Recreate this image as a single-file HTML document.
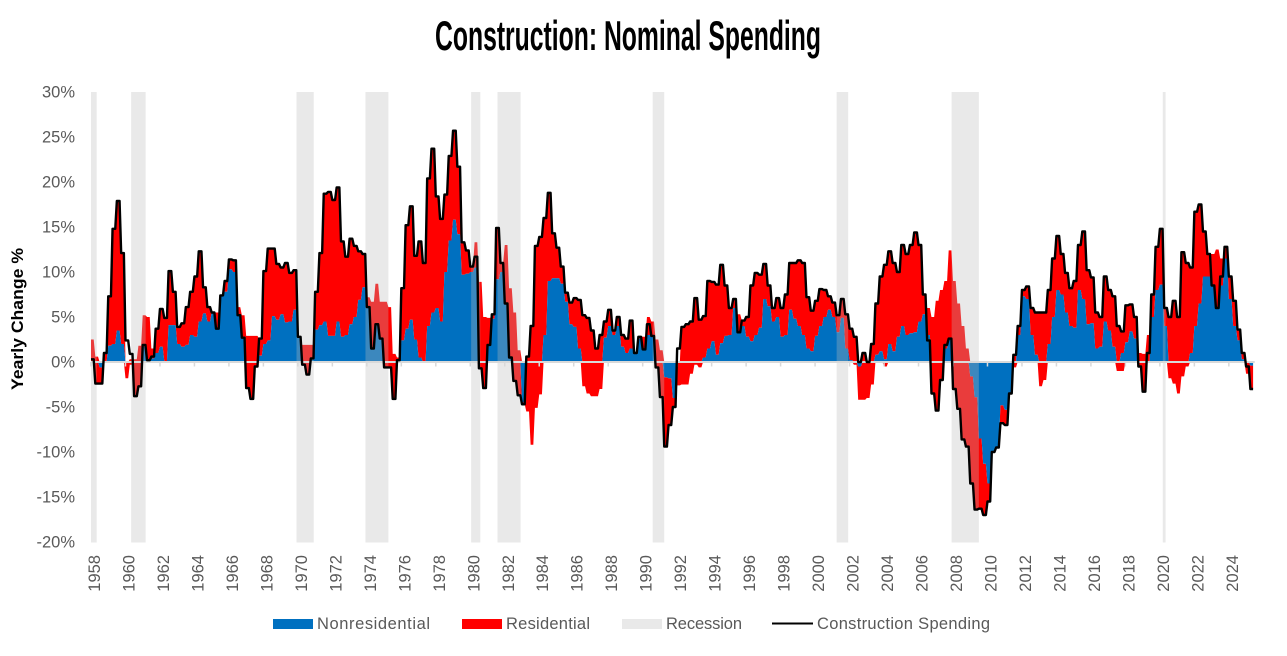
<!DOCTYPE html>
<html lang="en">
<head>
<meta charset="utf-8">
<title>Construction: Nominal Spending</title>
<style>
html,body{margin:0;padding:0;background:#fff;}
svg{display:block;font-family:"Liberation Sans",sans-serif;}
.tick-text{font-size:16.5px;fill:#595959;}
.legend-text{font-size:16.5px;fill:#595959;}
</style>
</head>
<body>
<svg id="chart" width="1287" height="656" viewBox="0 0 1287 656" xmlns="http://www.w3.org/2000/svg">
  <rect x="0" y="0" width="1287" height="656" fill="#ffffff"/>
  <text x="435" y="50" font-size="42" font-weight="700" fill="#000" textLength="386" lengthAdjust="spacingAndGlyphs">Construction: Nominal Spending</text>
  <text transform="translate(23,390) rotate(-90)" font-size="16.5" font-weight="700" fill="#000" textLength="142" lengthAdjust="spacingAndGlyphs">Yearly Change %</text>
  <g id="areas"></g>
  <g id="recessions"></g>
  <g id="axes"></g>
  <path id="line" fill="none" stroke="#000" stroke-width="2.4" stroke-linejoin="round"/>
  <g>
    <rect x="273" y="619" width="40" height="10" fill="#0070c0"/>
    <text class="legend-text" x="317" y="629" textLength="113" lengthAdjust="spacing">Nonresidential</text>
    <rect x="462" y="619" width="40" height="10" fill="#ff0000"/>
    <text class="legend-text" x="506" y="629" textLength="84" lengthAdjust="spacing">Residential</text>
    <rect x="622" y="619" width="40" height="10" fill="#e9e9e9"/>
    <text class="legend-text" x="666" y="629" textLength="76" lengthAdjust="spacing">Recession</text>
    <line x1="772" y1="623.5" x2="813" y2="623.5" stroke="#000" stroke-width="2"/>
    <text class="legend-text" x="817" y="629" textLength="173" lengthAdjust="spacing">Construction Spending</text>
  </g>
</svg>
<script>
// Quarterly observations, first quarter of 1958 onward.
const firstYear = 1958;
const quartersPerYear = 4;

const constructionSpending = [
0.3,-2.4,-2.4,1,7.3,14.8,17.9,12.1,2.4,0.9,
-3.8,-2.7,1.9,0.2,0.6,3.7,5.9,4.9,10.1,7.8,
3.9,4.3,6.1,7.8,9.5,12.3,8.3,6.1,5.5,3.7,
7.4,9,11.4,11.3,5.2,2.7,-2.9,-4.1,-0.5,2.6,
10.1,12.6,12.6,10.9,10.5,11,9.9,10.2,2.8,-0.3,
-1.4,0.4,7.8,12.1,18.7,18.9,18,19.4,13.4,11.7,
13.7,12.9,12.3,12,6.1,1.5,4.2,2.6,-0.6,-0.6,
-4.1,0.2,8.2,15.2,17.3,11.8,13.4,11,20.4,23.7,
18.4,15.9,18.6,22.9,25.7,21.7,13.3,12.4,10.6,11.7,
-0.7,-2.9,1.9,5.3,14.9,11,6.5,0.5,-2.1,-3.7,
-4.7,0.6,4,12.9,13.9,16,18.8,14.3,12.7,10.6,
7.7,6.6,7.1,6.9,5.2,4.9,3.5,1.5,3,4.5,
5.8,3.5,5,3,2.6,4.6,1,2.8,1.4,4.2,
2.9,-0.6,-3.9,-9.4,-7,-5,1.5,3.9,4.2,4.5,
7.1,4.7,5.1,9,8.9,8.6,10.8,8.5,6,7,
3.3,4.6,5,8.5,9.9,9.7,10.9,8.5,6,7.1,
6,7.5,11,11,11.3,11,7.2,5.7,6.8,8.1,
8,7.3,6.6,5.2,7,5.3,3.7,2.8,0,1,
0,2,6.5,9.5,10.8,12.3,11,10,13,12,
13,14.4,13,7.5,2.4,-3.5,-5.4,-2,1.9,2.6,
-3,-5.2,-8.6,-9.4,-13.5,-16.4,-16.3,-17,-15.5,-10,
-9.5,-6.8,-7,-3.5,0.8,4,8,8.4,6,5.5,
5.5,5.5,8,11.5,14,12,9.9,8.2,9,13,
14.5,10.2,9.4,5.5,5,9.5,8,7.3,4,3.4,
6.3,6.4,5,-0.5,-3.3,1,7.5,12.8,14.8,6,
5,6.8,5,12.2,11,10.5,16.7,17.5,14.5,12,
8.5,6,9.5,12.8,9.5,6.8,3.6,1,-0.5,-3
];

const nonresidential = [
0,0,-0.6,0,1.8,2,3.5,2,0,0,
0,0,1.7,0.2,0.4,1,1.7,0.1,4.1,4.1,
2,1.7,1.9,3,2.8,4.5,5.4,4.5,5.5,3.7,
7.4,7.8,10.3,10,5.2,2.7,0,0,0,0.7,
2,2.4,5.1,4.7,5.3,4.4,4.5,5.8,2.8,0,
0,0.4,3.6,4.1,4.5,2.9,2.9,4.5,2.8,3,
4.2,5,6.9,8.3,6.1,1.5,4.2,2.6,0,0,
0,0.2,2.4,3.7,4.7,2.5,0.5,0,4,5.5,
6,4.5,10,13.5,15.8,14.2,9.7,9.8,10,10.5,
0,0,1.9,4.8,9.2,10,6.5,0.5,0,0,
-4.5,0,0,0,0,3,9,9.3,9.3,8.7,
6.7,4.2,3.9,1.5,0,0,0,0,0,2.7,
4,3,4,1.7,1,1.5,1,2.6,1.4,3,
2.9,0,0,-1.7,-1.8,-4,0,0,0,0,
0,0,0.5,1.5,2.3,0.8,2.1,2.9,3,6,
3.3,4,2.8,2.3,3,3.8,7,6.2,4.5,5,
2.8,3,5.8,4.8,4,3,1.5,1.2,2.9,4,
5,5.8,5,3.3,4.9,1.5,0.2,0,-0.5,0,
0,0,0.8,1.2,0.3,2,1.2,2.8,4,3,
3.2,3.3,4.5,5.3,3,0,0,0,1.5,2.6,
0,0,0,0,-1.6,-3.9,-8.5,-11.3,-13.5,-10,
-9.5,-4.8,-5.3,-3.5,0,3,7.3,7,3,0.8,
0,0,2,5,8,7.5,5.5,4,3.8,8,
7,4.2,4.3,1.5,1.7,4.5,3.5,1.7,0,1,
2.2,3.4,2.6,0,0,0,5,8,8.6,4,
0,0,0,0,0,1,4,6.5,9.5,9.5,
8.5,6,8.5,11.5,7,4,2.4,0.3,0,-0.4
];

const residentialAbove = [
2.5,0.6,0,1,5.5,12.8,14.4,10.1,0,0.3,
0.3,1.8,3.5,4.8,1.1,2.7,4.2,4.8,6,3.7,
1.9,2.6,4.2,4.8,6.7,7.8,2.9,1.6,0,1.8,
0,1.2,1.1,1.3,0.9,2.5,2.9,2.9,2.9,1.9,
8.1,10.2,7.5,6.2,5.2,6.6,5.4,4.4,0,1.9,
1.9,1.5,4.2,8,14.2,16,15.1,14.9,10.6,8.7,
9.5,7.9,5.4,3.7,1.1,5.2,4.5,4.1,6.7,6.1,
0.9,0.3,5.8,11.5,12.6,9.3,12.9,11,16.4,18.2,
12.4,11.4,8.6,9.4,9.9,7.5,3.6,2.6,0.6,2.8,
8.9,5,3,0.5,5.7,1,6.5,7.7,5.5,1.3,
0,0.6,4,12.9,13.9,13,9.8,5,3.4,1.9,
1,2.4,3.2,5.4,5.2,4.9,3.5,1.5,3,1.8,
1.8,0.5,1,1.3,1.6,3.1,0,0.2,1.4,2,
1.6,2.5,1.3,0,0,0,0,3.9,4.2,4.5,
7.1,4.7,4.6,7.5,6.6,7.8,8.7,5.6,3,1,
2,0.6,2.2,6.2,6.9,5.9,3.9,2.3,1.5,2.1,
3.2,4.5,5.2,6.2,7.3,8,5.7,4.5,3.9,4.1,
3,1.5,1.6,1.9,2.1,3.8,3.5,2.8,0,1,
0,2,5.7,8.3,10.5,10.3,9.8,7.2,9,9,
9.8,11.1,8.5,2.2,3,5,6.8,8,7.5,9.8,
9,6.5,4,1.5,0,0,0,0,0,0,
0,0,0,0,0.8,1,0.7,1.4,3,4.7,
5.5,5.5,6,6.5,6,4.5,4.4,4.2,5.2,5,
7.5,6,5.1,4,3.3,5,4.5,5.6,4,2.4,
4.1,3,2.4,1,0.9,3,2.5,4.8,6.2,2,
5,6.8,5,12.2,11,9.5,12.7,11,5,2.5,
3.5,6.5,3,1.3,2.5,2.8,1.2,0.7,0,0
];

const residentialBelow = [
0,0,0,0,0,0,0,0,-1.8,-0.3,
0,0,0,0,0,0,0,0,0,0,
0,0,0,0,0,0,0,0,0,0,
0,0,0,0,0,0,0,0,0,0,
0,0,0,0,0,0,0,0,0,0,
0,0,0,0,0,0,0,0,0,0,
0,0,0,0,0,0,0,0,0,0,
0,0,0,0,0,0,0,0,0,0,
0,0,0,0,0,0,0,0,0,0,
0,0,0,0,0,0,0,0,0,0,
0,-5.5,-9.2,-5.1,-3.6,0,0,0,0,0,
0,0,0,0,-2.7,-3.5,-3.8,-3.8,-3,0,
0,0,0,0,0,0,0,0,0,0,
0,0,0,0,0,0,-2.6,-2.5,-2.5,-1.3,
-0.3,-0.6,0,0,0,0,0,0,0,0,
0,0,0,0,0,0,0,0,0,0,
0,0,0,0,0,0,0,0,0,0,
0,0,0,0,0,0,0,-0.3,-3.7,-4.2,
-4,-2.5,0,0,-0.5,0,0,0,0,0,
0,0,0,0,0,0,0,0,0,0,
0,0,0,0,0,0,0,0,0,0,
0,0,0,0,-0.6,0,0,0,0,0,
-2.7,-2,0,0,0,0,0,0,0,0,
0,0,0,0,0,0,0,0,-1,-1,
0,0,0,0,0,0,0,0,0,0,
-1.8,-2.4,-3.5,-1.6,-0.5,0,0,0,0,0,
0,0,0,0,0,0,0,0,-1.3,0
];

const recessionStarts = [1958,1960.33,1969.92,1973.92,1980.05,1981.58,1990.58,2001.25,2007.92,2020.17];
const recessionEnds = [1958.33,1961.17,1970.92,1975.25,1980.58,1982.92,1991.25,2001.92,2009.5,2020.33];

const yTickValues = [30,25,20,15,10,5,0,-5,-10,-15,-20];
const yTickLabels = ['30%','25%','20%','15%','10%','5%','0%','-5%','-10%','-15%','-20%'];
const xTickYears = [1958,1960,1962,1964,1966,1968,1970,1972,1974,1976,1978,1980,1982,1984,1986,1988,1990,1992,1994,1996,1998,2000,2002,2004,2006,2008,2010,2012,2014,2016,2018,2020,2022,2024];

const NS = 'http://www.w3.org/2000/svg';
const plotLeft = 91, pxPerYear = 17.24, zeroY = 362, pxPerPct = 9;
const plotTop = 92, plotBottom = 542.5;
const plateauPx = 2.7;

function xYear(y){ return plotLeft + (y - firstYear) * pxPerYear; }
function xIndex(i){ return xYear(firstYear + i / quartersPerYear); }
function yVal(v){ return zeroY - v * pxPerPct; }

function makeRect(parent, x, y, w, h, fill){
  const el = document.createElementNS(NS, 'rect');
  el.setAttribute('x', x.toFixed(2));
  el.setAttribute('y', y.toFixed(2));
  el.setAttribute('width', w.toFixed(2));
  el.setAttribute('height', h.toFixed(2));
  el.setAttribute('fill', fill);
  parent.appendChild(el);
  return el;
}

// Stepped edge: a short plateau for each quarter, then a slope to the next.
function edgePoints(values){
  const pts = [];
  values.forEach(function(v, i){
    const x = xIndex(i), y = yVal(v);
    pts.push(x.toFixed(2) + ' ' + y.toFixed(2));
    pts.push((x + plateauPx).toFixed(2) + ' ' + y.toFixed(2));
  });
  return pts;
}
function areaPath(upper, lower){
  const a = edgePoints(upper), b = edgePoints(lower).reverse();
  return 'M' + a.join('L') + 'L' + b.join('L') + 'Z';
}
function makeArea(parent, upper, lower, fill){
  const el = document.createElementNS(NS, 'path');
  el.setAttribute('d', areaPath(upper, lower));
  el.setAttribute('fill', fill);
  parent.appendChild(el);
  return el;
}

const areasG = document.getElementById('areas');
const positiveBase = nonresidential.map(function(n){ return Math.max(n, 0); });
const negativeBase = nonresidential.map(function(n){ return Math.min(n, 0); });
const stackTop = positiveBase.map(function(b, i){ return b + residentialAbove[i]; });
const stackBottom = negativeBase.map(function(b, i){
  return Math.min(b + residentialBelow[i], constructionSpending[i] < 0 ? constructionSpending[i] : 0, b);
});
const zeros = nonresidential.map(function(){ return 0; });

const redUpper = makeArea(areasG, stackTop, positiveBase, '#ff0000');



const redLower = makeArea(areasG, negativeBase, stackBottom, '#ff0000');



const blueArea = makeArea(areasG, nonresidential, zeros, '#0070c0');



const recG = document.getElementById('recessions');
recessionStarts.forEach(function(s, i){
  const x0 = xYear(s), x1 = xYear(recessionEnds[i]);
  const band = makeRect(recG, x0, plotTop, x1 - x0, plotBottom - plotTop, 'rgba(187,187,187,0.32)');
  
  
});

const axesG = document.getElementById('axes');
const base = makeRect(axesG, plotLeft, zeroY - 1, xIndex(constructionSpending.length) - plotLeft, 2, '#d9d9d9');



xTickYears.forEach(function(yr){
  const x = xYear(yr);
  const t = makeRect(axesG, x - 0.75, zeroY, 1.5, 4.5, '#d9d9d9');
  
  
  const lab = document.createElementNS(NS, 'text');
  lab.setAttribute('class', 'tick-text');
  lab.setAttribute('text-anchor', 'end');
  lab.setAttribute('transform', 'translate(' + (x + 9).toFixed(2) + ',555) rotate(-90)');
  
  
  lab.textContent = String(yr);
  axesG.appendChild(lab);
});

yTickValues.forEach(function(v, i){
  const lab = document.createElementNS(NS, 'text');
  lab.setAttribute('class', 'tick-text');
  lab.setAttribute('text-anchor', 'end');
  lab.setAttribute('x', '75');
  lab.setAttribute('y', (yVal(v) + 5.5).toFixed(2));
  
  
  lab.textContent = yTickLabels[i];
  axesG.appendChild(lab);
});

document.getElementById('line').setAttribute('d', 'M' + edgePoints(constructionSpending).join('L'));
</script>
</body>
</html>
